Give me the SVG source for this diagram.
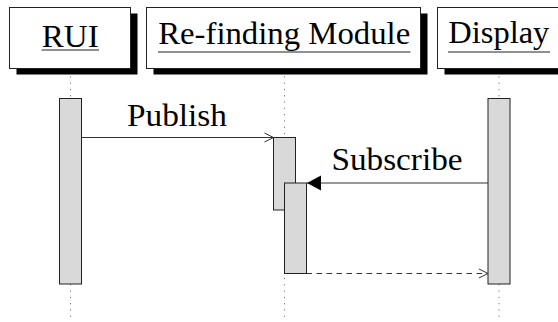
<svg xmlns="http://www.w3.org/2000/svg" width="558" height="322" viewBox="0 0 558 322">
  <defs>
    <marker id="open-head" markerWidth="12" markerHeight="12" refX="10" refY="6" orient="auto" markerUnits="userSpaceOnUse">
      <path d="M1,1.5 L10,6 L1,10.5" fill="none" stroke="#333" stroke-width="1"/>
    </marker>
    <marker id="solid-head" markerWidth="16" markerHeight="16" refX="14" refY="8" orient="auto" markerUnits="userSpaceOnUse">
      <path d="M0,0.5 L14,8 L0,15.5 Z" fill="#000"/>
    </marker>
    <style>
      .box { fill: #fff; stroke: #222; stroke-width: 1; }
      .shadow { fill: #000; }
      .label { font-family: "Liberation Serif", "DejaVu Serif", serif; font-size: 31px; fill: #000; }
      .uline { stroke: #222; stroke-width: 1.2; }
      .life { stroke: #777; stroke-width: 1; stroke-dasharray: 1.2 5.1; fill: none; }
      .act { fill: #d9d9d9; stroke: #222; stroke-width: 1; }
      .msg { stroke: #333; stroke-width: 1; fill: none; }
      .ret { stroke: #333; stroke-width: 1; fill: none; stroke-dasharray: 5.5 4.5; }
    </style>
  </defs>

  <rect width="558" height="322" fill="#fff"/>

  <!-- lifelines -->
  <g id="lifelines">
    <line class="life" x1="70.5" y1="70" x2="70.5" y2="322"/>
    <line class="life" x1="284.5" y1="70" x2="284.5" y2="322"/>
    <line class="life" x1="499" y1="70" x2="499" y2="322"/>
  </g>

  <!-- participants -->
  <g id="rui">
    <rect class="shadow" x="16.5" y="13.5" width="121" height="61"/>
    <rect class="box" x="9.5" y="7.5" width="121" height="61"/>
    <text class="label" x="70.3" y="46.5" text-anchor="middle" textLength="57" lengthAdjust="spacingAndGlyphs">RUI</text>
    <line class="uline" x1="41.5" y1="50" x2="99" y2="50"/>
  </g>
  <g id="refinding">
    <rect class="shadow" x="153.5" y="13.5" width="274" height="61"/>
    <rect class="box" x="146.5" y="7.5" width="274" height="61"/>
    <text class="label" x="284.2" y="43.5" text-anchor="middle" textLength="252" lengthAdjust="spacingAndGlyphs">Re-finding Module</text>
    <line class="uline" x1="158" y1="52" x2="410.5" y2="52"/>
  </g>
  <g id="display">
    <rect class="shadow" x="444.5" y="13.5" width="125" height="61"/>
    <rect class="box" x="437.5" y="7.5" width="125" height="61"/>
    <text class="label" x="498.8" y="42.5" text-anchor="middle" textLength="101" lengthAdjust="spacingAndGlyphs">Display</text>
    <line class="uline" x1="448" y1="52" x2="550" y2="52"/>
  </g>

  <!-- activations -->
  <g id="rui-activation">
    <rect class="act" x="59.5" y="98.5" width="22" height="185.5"/>
  </g>
  <g id="display-activation">
    <rect class="act" x="488" y="98.5" width="22" height="185.5"/>
  </g>
  <g id="publish-activation">
    <rect class="act" x="273.5" y="137.5" width="22" height="72.5"/>
  </g>
  <g id="subscribe-activation">
    <rect class="act" x="284.5" y="183" width="22" height="90.5"/>
  </g>

  <!-- messages -->
  <g id="connectors">
    <line class="msg" x1="81.5" y1="137.5" x2="273.5" y2="137.5" marker-end="url(#open-head)"/>
    <line class="msg" x1="488" y1="183" x2="307" y2="183" marker-end="url(#solid-head)"/>
    <line class="ret" x1="306.5" y1="273.5" x2="488" y2="273.5" marker-end="url(#open-head)"/>
  </g>

  <g id="message-labels">
    <text class="label" x="177" y="126" text-anchor="middle" textLength="100" lengthAdjust="spacingAndGlyphs">Publish</text>
    <text class="label" x="397" y="169.5" text-anchor="middle" textLength="131" lengthAdjust="spacingAndGlyphs">Subscribe</text>
  </g>
</svg>
